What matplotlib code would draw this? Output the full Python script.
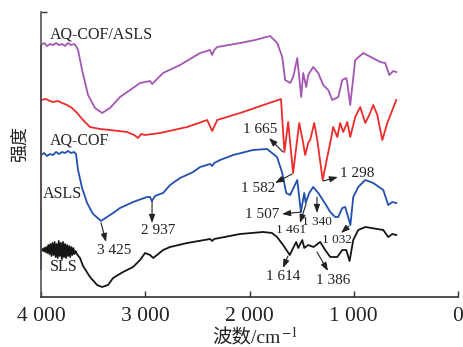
import matplotlib
matplotlib.use("Agg")
import matplotlib.pyplot as plt

plt.rcParams['font.family'] = ['Liberation Serif', 'Noto Sans CJK SC']
plt.rcParams['mathtext.fontset'] = 'stix'

# wavenumber (cm-1) / intensity (arbitrary, curves stacked)
purple_wn = [4000, 3971, 3942, 3914, 3885, 3856, 3827, 3798, 3770, 3741, 3712, 3683, 3664,
             3645, 3606, 3549, 3482, 3414, 3338, 3242, 3050, 2954, 2934, 2896, 2829, 2666,
             2474, 2378, 2358, 2339, 2310, 2090, 1946, 1802, 1734, 1686, 1658, 1610, 1581,
             1542, 1504, 1485, 1456, 1437, 1389, 1341, 1293, 1245, 1206, 1149, 1110, 1072,
             1062, 1034, 986, 909, 746, 698, 659, 621, 592]
purple_y = [252, 254, 251, 253, 252, 254, 252, 253, 251, 254, 252, 253, 251,
            247, 227, 202, 189, 184, 189, 200, 214, 216, 213, 217, 224, 232,
            244, 247, 242, 247, 250, 254, 257, 261, 254, 240, 217, 214, 220,
            239, 200, 224, 210, 222, 230, 224, 212, 207, 197, 200, 217, 219,
            214, 192, 237, 244, 235, 234, 222, 226, 225]

red_wn = [4000, 3952, 3914, 3885, 3837, 3798, 3750, 3702, 3654, 3597, 3530, 3434, 3338,
          3174, 3107, 3069, 3040, 3002, 2858, 2598, 2406, 2358, 2310, 2090, 1698, 1665,
          1629, 1582, 1523, 1485, 1466, 1437, 1418, 1379, 1350, 1298, 1254, 1226, 1197,
          1158, 1130, 1101, 1062, 1034, 986, 938, 890, 851, 813, 774, 726, 678, 592]
red_y = [197, 198, 196, 195, 196, 194, 192, 189, 184, 177, 170, 168, 167,
         165, 162, 159, 163, 162, 164, 170, 177, 166, 177, 184, 198, 145,
         175, 124, 174, 154, 142, 154, 157, 174, 157, 117, 140, 154, 170,
         160, 174, 165, 175, 160, 180, 190, 174, 182, 192, 182, 157, 174, 197]

blue_wn = [4000, 3971, 3942, 3914, 3885, 3856, 3827, 3798, 3770, 3741, 3712, 3683, 3664,
           3645, 3606, 3558, 3501, 3434, 3425, 3309, 3242, 3117, 2983, 2954, 2937, 2906,
           2858, 2829, 2762, 2666, 2541, 2474, 2378, 2358, 2339, 2282, 2157, 1966, 1832,
           1784, 1736, 1686, 1648, 1610, 1542, 1507, 1475, 1461, 1427, 1389, 1340, 1254,
           1226, 1178, 1149, 1110, 1082, 1032, 1005, 957, 890, 813, 717, 669, 630, 592]
blue_y = [142, 144, 141, 143, 142, 145, 143, 145, 144, 146, 144, 145, 143,
          127, 109, 94, 83, 77, 76, 84, 89, 95, 100, 100, 96, 101,
          103, 104, 112, 119, 125, 130, 133, 131, 134, 137, 142, 147, 148,
          144, 140, 124, 104, 102, 117, 85, 104, 94, 104, 110, 104, 90,
          85, 80, 80, 89, 90, 72, 100, 110, 117, 114, 107, 92, 95, 94]

black_wn = [4000, 3990, 3980, 3970, 3960, 3950, 3940, 3930, 3920, 3910, 3900, 3890, 3880,
            3870, 3860, 3850, 3840, 3830, 3820, 3810, 3800, 3790, 3780, 3770, 3760, 3750,
            3740, 3730, 3720, 3710, 3700, 3690, 3680, 3670, 3660, 3650,
            3626, 3597, 3530, 3462, 3414, 3357, 3309, 3213, 3117, 3050, 3002, 2954, 2925,
            2887, 2829, 2762, 2598, 2378, 2358, 2339, 2090, 1870, 1784, 1736, 1678, 1614,
            1591, 1552, 1533, 1494, 1475, 1437, 1386, 1322, 1274, 1226, 1158, 1110, 1072,
            1040, 1005, 957, 890, 717, 669, 630, 592]
black_y = [47, 48, 46, 49, 45, 50, 44, 52, 43, 53, 41, 54, 42,
           55, 40, 53, 39, 56, 41, 54, 38, 55, 40, 53, 39, 52,
           41, 51, 40, 50, 42, 49, 43, 46, 44, 42,
           39, 31, 20, 12, 10, 12, 19, 25, 30, 37, 44, 42, 39,
           42, 47, 50, 54, 58, 56, 58, 63, 65, 64, 60, 52, 42,
           47, 55, 49, 57, 49, 52, 50, 55, 47, 40, 40, 47, 47,
           36, 57, 67, 70, 67, 60, 63, 62]

series_labels = ['AQ-COF/ASLS', 'AQ-COF', 'ASLS', 'SLS']
label_pos = [(3914, 263), (3914, 157), (3981, 103), (3914, 30)]

# peak labels: text, peak point, arrow head, text centre, font size
peaks = [
    ('3 425', (3424, 74), (3376, 55), (3300, 46), 11),
    ('2 937', (2935, 96), (2935, 74), (2878, 66), 11),
    ('1 665', (1679, 145), (1813, 159), (1899, 168), 11),
    ('1 582', (1592, 123), (1755, 114), (1918, 109), 11),
    ('1 298', (1295, 116), (1151, 120), (969, 124), 11),
    ('1 507', (1506, 85), (1688, 83), (1880, 82), 11),
    ('1 461', (1458, 93), (1516, 74), (1602, 67), 9.5),
    ('1 340', (1353, 100), (1353, 84), (1353, 75), 9.5),
    ('1 032', (1046, 71), (1122, 64), (1161, 57), 9.5),
    ('1 614', (1631, 41), (1679, 29), (1679, 20), 11),
    ('1 386', (1353, 45), (1247, 26), (1199, 16), 11),
]

xticks = [4000, 3000, 2000, 1000, 0]
xtick_labels = ['4 000', '3 000', '2 000', '1 000', '0']

fig = plt.figure(figsize=(4.63, 3.47), dpi=100)
ax = fig.add_axes([0.0886, 0.1441, 0.9006, 0.8213])

ax.plot(purple_wn, purple_y, color='#a356b3', lw=1.3)
ax.plot(red_wn, red_y, color='#ee2b2b', lw=1.3)
ax.plot(blue_wn, blue_y, color='#2150ad', lw=1.3)
ax.plot(black_wn, black_y, color='#151515', lw=1.3)

for name, (x, y) in zip(series_labels, label_pos):
    ax.text(x, y, name, fontsize=11.5, color='#222222', ha='left', va='center')

for txt, tail, head, pos, fs in peaks:
    ax.annotate('', xy=head, xytext=tail,
                arrowprops=dict(arrowstyle='-|>,head_length=0.5,head_width=0.18',
                                color='#222222', lw=0.8, shrinkA=0, shrinkB=0))
    ax.text(pos[0], pos[1], txt, fontsize=fs, color='#222222', ha='center', va='center')

ax.set_xlim(4000, 0)
ax.set_ylim(0, 285)
ax.set_xticks(xticks)
ax.set_xticklabels(xtick_labels, fontsize=15.5, color='#222222')
ax.set_yticks([285])
ax.set_yticklabels([''])
ax.tick_params(axis='both', direction='in', length=4, width=1, color='#333333', pad=7)

ax.spines['top'].set_visible(False)
ax.spines['right'].set_visible(False)
ax.spines['left'].set_color('#555555')
ax.spines['bottom'].set_color('#333333')
ax.spines['left'].set_linewidth(1.2)
ax.spines['bottom'].set_linewidth(1.2)

# coloured pieces along the left spine
for (y0, y1), c in zip([(252, 142), (142, 89), (89, 27)], ['#4a2c4c', '#b8343a', '#2b3a5e']):
    ax.plot([4000, 4000], [y0, y1], color=c, lw=1.4, clip_on=False, solid_capstyle='butt')

# x label: CJK part and superscript drawn separately (mathtext has no CJK fallback)
fig.text(281 / 463, 1 - 343 / 347, '波数/cm', fontsize=14, ha='right', va='baseline', color='#222222')
fig.text(281 / 463, 1 - 343 / 347, '$^{-1}$', fontsize=14, ha='left', va='baseline', color='#222222')
fig.text(20 / 463, 1 - 144 / 347, '强度', fontsize=13, rotation=90, ha='center', va='center',
         color='#222222', family='Noto Sans CJK SC')

fig.savefig('out.png', dpi=100)
